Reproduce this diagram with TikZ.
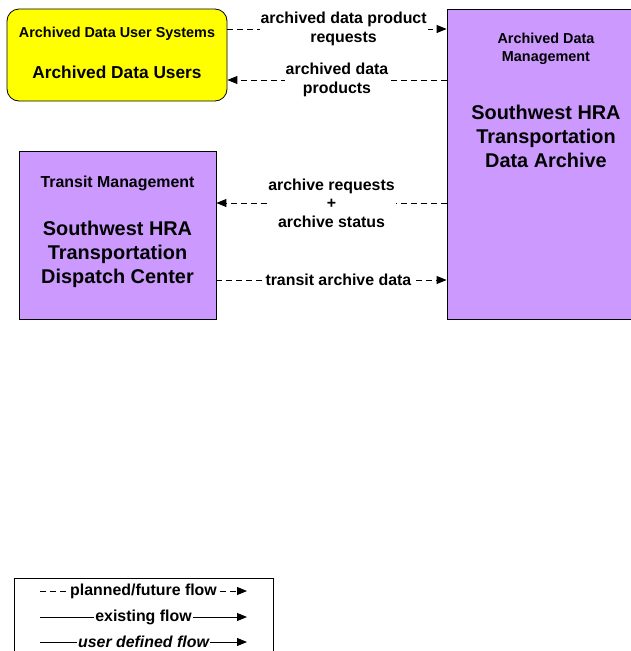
\documentclass[tikz,border=0pt]{standalone}
\usepackage{fontspec}
\setmainfont{Liberation Sans}
\usetikzlibrary{arrows.meta,positioning,calc}
\definecolor{UserYellow}{HTML}{FFFF00}
\definecolor{ArchPurple}{HTML}{CC99FF}

\tikzset{
  sysbox/.style={draw=black,line width=0.8pt,inner sep=0pt},
  flow/.style={line width=0.9pt,dash pattern=on 6pt off 4pt,
    -{Triangle[length=10pt,width=8pt]}},
  solidflow/.style={line width=0.9pt,-{Triangle[length=10pt,width=8pt]}},
  flowlbl/.style={fill=white,inner sep=1pt,align=center,
    font=\bfseries\fontsize{15.9}{18.5}\selectfont},
  titlelbl/.style={align=center,inner sep=0pt,
    font=\bfseries\fontsize{14.4}{18}\selectfont},
  namelbl/.style={align=center,inner sep=0pt,
    font=\bfseries\fontsize{19.9}{24}\selectfont}
}

\begin{document}
\begin{tikzpicture}[x=1pt,y=-1pt]
  \useasboundingbox (0,0) rectangle (631,651);

  % the three systems
  \node[sysbox,fill=UserYellow,rounded corners=12pt,
    minimum width=220pt,minimum height=92pt] (users) at (117,55) {};
  \node[sysbox,fill=ArchPurple,minimum width=198pt,minimum height=310pt]
    (archive) at (546,164) {};
  \node[sysbox,fill=ArchPurple,minimum width=197pt,minimum height=168pt]
    (dispatch) at (117.5,235) {};

  \node[titlelbl] (usersT) at ([yshift=-25pt]users.north) {Archived Data User Systems};
  \node[namelbl,font=\bfseries\fontsize{17.3}{21}\selectfont] (usersN)
    at ([yshift=-64pt]users.north) {Archived Data Users};

  \node[titlelbl] (archiveT) at ([yshift=-40pt]archive.north) {Archived Data\\Management};
  \node[namelbl] (archiveN) at ([yshift=-128pt]archive.north)
    {Southwest HRA\\Transportation\\Data Archive};

  \node[titlelbl,font=\bfseries\fontsize{15.9}{18}\selectfont] (dispatchT)
    at ([yshift=-33pt]dispatch.north) {Transit Management};
  \node[namelbl] (dispatchN) at ([yshift=-104pt]dispatch.north)
    {Southwest HRA\\Transportation\\Dispatch Center};

  % flows between them
  \coordinate (u1) at ([yshift=26pt]users.east);
  \coordinate (u2) at ([yshift=-25pt]users.east);
  \coordinate (d1) at ([yshift=32pt]dispatch.east);
  \coordinate (d2) at ([yshift=-45pt]dispatch.east);

  \draw[flow] (u1) -- node[flowlbl,pos=.53] {archived data product\\requests} (u1 -| archive.west);
  \draw[flow] (u2 -| archive.west) -- node[flowlbl,pos=.5] {archived data\\products} (u2);
  \draw[flow] (d1 -| archive.west) -- node[flowlbl,pos=.5] {archive requests\\+\\archive status} (d1);
  \draw[flow] (d2) -- node[flowlbl,pos=.53] {transit archive data} (d2 -| archive.west);

  % legend
  \draw[line width=0.8pt] (14,660) |- (273,578) -- (273,660);
  \coordinate (lg1a) at (40,591);  \coordinate (lg1b) at (247,591);
  \coordinate (lg2a) at (40,617);  \coordinate (lg2b) at (247,617);
  \coordinate (lg3a) at (40,642);  \coordinate (lg3b) at (247,642);
  \draw[flow] (lg1a) -- node[flowlbl] {planned/future flow} (lg1b);
  \draw[solidflow] (lg2a) -- node[flowlbl] {existing flow} (lg2b);
  \draw[solidflow] (lg3a) -- node[flowlbl,font=\bfseries\itshape\fontsize{15.9}{18.5}\selectfont] {user defined flow} (lg3b);
\end{tikzpicture}
\end{document}
